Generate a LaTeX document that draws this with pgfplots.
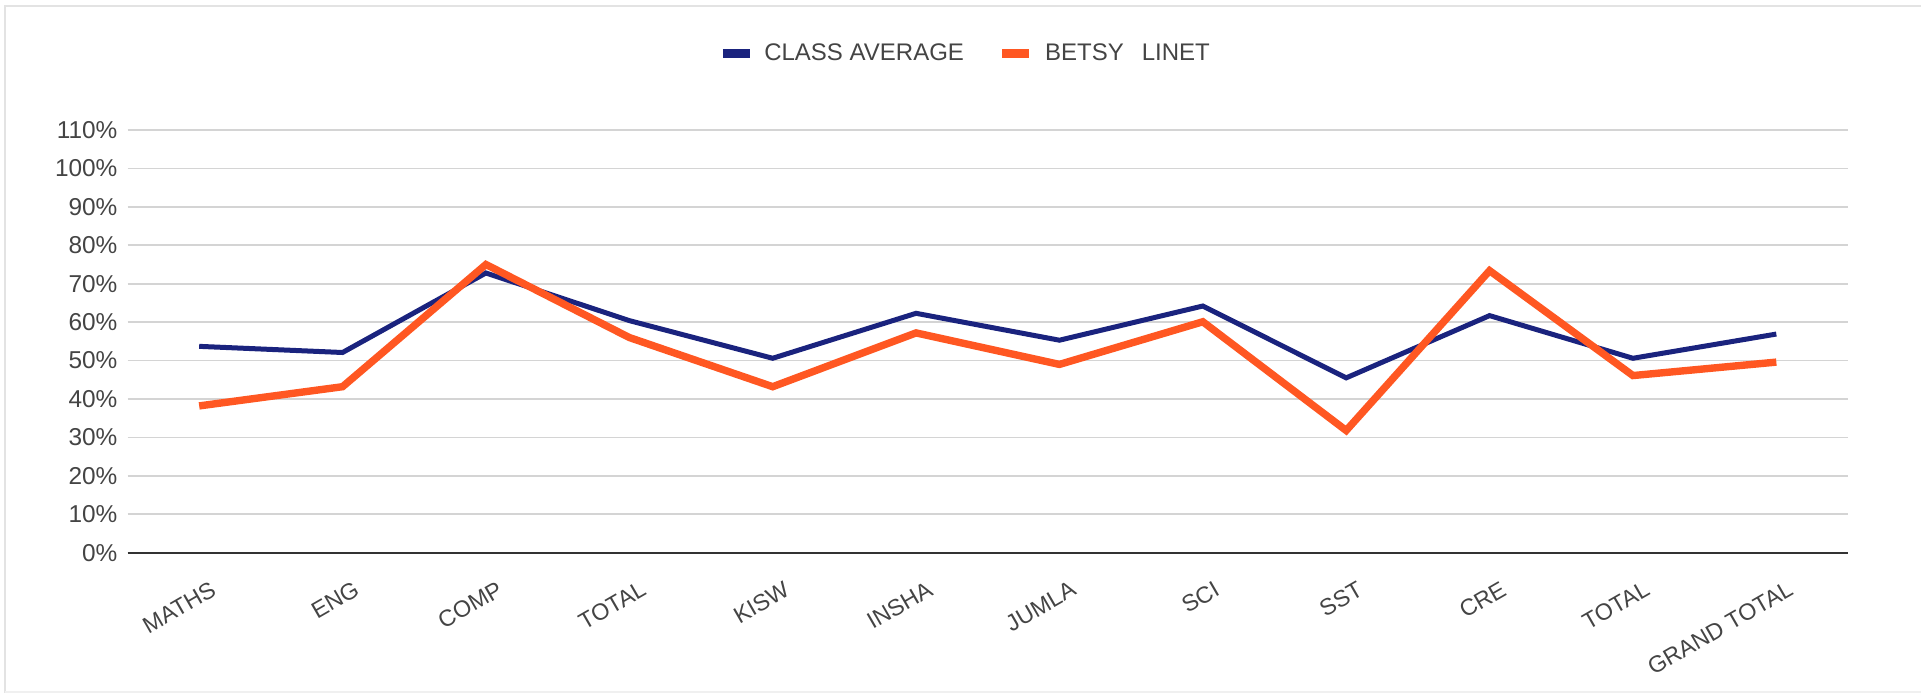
\documentclass[border=0pt]{standalone}
\usepackage{pgfplots}
\pgfplotsset{compat=1.18}
\usepackage{fontspec}
\setmainfont{Liberation Sans}
\definecolor{navy}{RGB}{26,35,126}
\definecolor{orng}{RGB}{255,87,34}
\definecolor{txt}{RGB}{68,68,68}
\definecolor{grd}{RGB}{212,212,212}
\begin{document}
\begin{tikzpicture}
\useasboundingbox (0,0) rectangle (960.5pt,346.5pt);
\draw[color=gray!22, line width=1pt] (2.5pt,0pt) -- (2.5pt,343.5pt) -- (960.5pt,343.5pt);
\draw[color=gray!12, line width=1pt] (2.5pt,0.4pt) -- (960.5pt,0.4pt);
\begin{axis}[
  scale only axis,
  width=860.25pt, height=211.35pt,
  at={(63.75pt,70.15pt)}, anchor=south west,
  xmin=-0.5, xmax=11.5,
  ymin=0, ymax=110,
  ytick={0,10,...,110},
  yticklabel={\pgfmathprintnumber{\tick}\%},
  /pgf/number format/assume math mode=true,
  xtick={0,...,11},
  xticklabels={MATHS,ENG,COMP,TOTAL,KISW,INSHA,JUMLA,SCI,SST,CRE,TOTAL,GRAND TOTAL},
  xticklabel style={rotate=30, anchor=north east, xshift=1pt, yshift=-11pt, font=\fontsize{11.6}{13}\selectfont, text=txt},
  yticklabel style={font=\fontsize{12.2}{14}\selectfont, text=txt, xshift=-1.5pt},
  major tick length=0pt,
  ymajorgrids,
  grid style={color=grd, line width=0.8pt},
  axis line style={draw=none},
  clip=false,
  legend columns=2,
  legend style={at={(0.4874,1.18)}, anchor=center, draw=none, fill=none,
    font=\fontsize{12}{14}\selectfont, text=txt,
    /tikz/every even column/.append style={column sep=15pt}},
  legend image code/.code={\draw[line width=4.5pt, line cap=butt] (0pt,0pt) -- (13.5pt,0pt); \path (17.5pt,0pt);},
]
\draw[color=black!80, line width=1.1pt] (axis cs:-0.5,0) -- (axis cs:11.5,0);
\addplot[color=navy, line width=2.5pt, line join=miter] coordinates {
(0,53.7) (1,52.1) (2,72.8) (3,60.4) (4,50.6) (5,62.3) (6,55.3) (7,64.2) (8,45.5) (9,61.7) (10,50.6) (11,56.9)};
\addlegendentry{CLASS AVERAGE}
\addplot[color=orng, line width=3.7pt, line join=miter] coordinates {
(0,38.2) (1,43.2) (2,75.0) (3,56.0) (4,43.2) (5,57.2) (6,49.0) (7,60.1) (8,31.8) (9,73.4) (10,46.1) (11,49.6)};
\addlegendentry{BETSY\hspace{9pt}LINET}
\end{axis}
\end{tikzpicture}
\end{document}
